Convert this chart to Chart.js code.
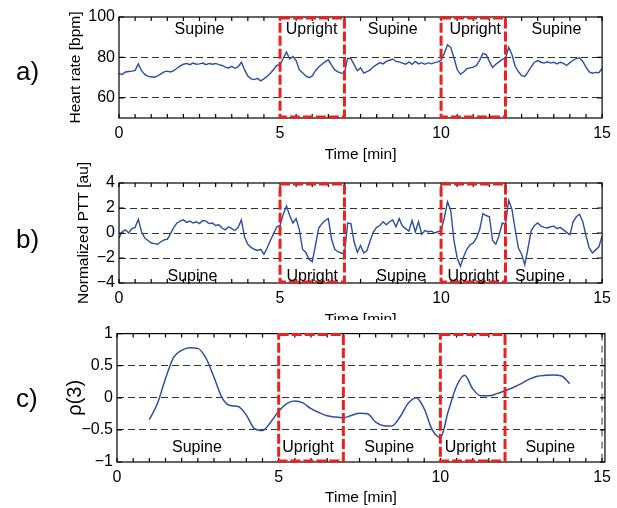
<!DOCTYPE html>
<html>
<head>
<meta charset="utf-8">
<script src="https://cdn.jsdelivr.net/npm/chart.js@4.4.1/dist/chart.umd.min.js"></script>
<style>
  body { margin: 0; background: #fff; }
  #page { position: relative; width: 617px; height: 508px; overflow: hidden; background: #fff;
          font-family: "Liberation Sans", Arial, sans-serif; }
  .panel { position: absolute; left: 0; width: 617px; }
  #rhoChart { background: #fff; }
  .tag { position: absolute; left: 16px; font-size: 26px; line-height: 26px; color: #000; }
</style>
</head>
<body>
<div id="page">
  <div class="panel" style="top:0px;height:165px"><canvas id="hrChart" width="617" height="165"></canvas></div>
  <div class="panel" style="top:155px;height:175px"><canvas id="pttChart" width="617" height="175"></canvas></div>
  <div class="panel" style="top:320px;height:188px"><canvas id="rhoChart" width="617" height="188"></canvas></div>
  <div class="tag" style="top:58px">a)</div>
  <div class="tag" style="top:226px">b)</div>
  <div class="tag" style="top:385px">c)</div>
</div>
<script>
// Data
const phaseNames = ['Supine', 'Upright', 'Supine', 'Upright', 'Supine'];
const uprightSpans = [[5, 7], [10, 12]];
const timeTicks = [0, 5, 10, 15];

// a) heart rate, sampled every 0.1 min
const hrValues = [
  72.0, 71.6, 72.8, 73.0, 73.2, 73.6, 76.8, 73.4, 71.6, 70.6,
  70.4, 70.2, 70.8, 71.8, 72.8, 73.2, 72.8, 73.4, 74.6, 75.8,
  76.6, 77.0, 76.4, 77.2, 76.6, 76.8, 77.2, 76.4, 77.0, 76.6,
  77.0, 76.4, 76.0, 75.2, 74.8, 75.6, 74.6, 75.4, 77.6, 73.8,
  70.8, 69.4, 69.0, 69.6, 68.4, 69.4, 70.6, 72.2, 74.0, 76.0,
  76.4, 79.6, 82.6, 79.2, 80.4, 78.4, 73.8, 72.4, 70.8, 70.0,
  70.8, 73.4, 75.2, 76.6, 77.8, 78.8, 76.2, 73.8, 72.8, 72.2,
  72.2, 79.6, 79.4, 76.4, 73.4, 74.8, 72.2, 73.0, 73.8, 75.4,
  76.4, 77.4, 76.8, 78.0, 78.6, 79.2, 78.0, 77.8, 77.2, 76.6,
  77.8, 76.6, 78.0, 76.8, 77.4, 76.6, 77.4, 76.8, 77.4, 77.8,
  78.6, 82.0, 86.2, 85.0, 79.8, 74.0, 71.6, 72.8, 74.4, 74.8,
  75.2, 76.0, 78.6, 82.0, 81.4, 78.0, 75.0, 76.6, 77.8, 79.0,
  79.6, 85.0, 81.4, 75.6, 73.0, 71.0, 70.6, 72.8, 75.4, 77.6,
  78.4, 77.6, 77.2, 77.8, 77.2, 77.6, 76.8, 77.6, 77.0, 76.0,
  77.4, 78.6, 79.4, 79.8, 78.0, 75.2, 72.8, 72.2, 72.6, 72.4,
  74.6
];
const hrTicks = [60, 80, 100];
const hrLabelX = [2.5, 5.98, 8.5, 11.06, 13.58];

// b) normalized PTT, sampled every 0.1 min
const pttValues = [
  -0.4, 0.1, 0.25, 0.0, 0.35, 0.45, 1.1, 0.1, -0.4, -0.6,
  -0.8, -0.85, -0.9, -0.7, -0.55, -0.5, -0.05, 0.45, 0.8, 0.95,
  1.05, 0.85, 0.95, 0.8, 0.9, 0.75, 1.0, 0.95, 0.75, 0.8,
  0.6, 0.65, 0.4, 0.25, 0.5, 0.35, 0.2, 0.45, 1.05, -0.35,
  -0.9, -1.15, -1.3, -1.4, -1.3, -1.7, -1.2, -0.6, -0.05, 0.5,
  0.6, 1.5, 2.15, 1.4, 0.8, 1.15, 0.25, -1.3, -1.55, -2.1,
  -2.3, -1.0, 0.4, 0.75, 1.0, 1.15, -0.5, -1.3, -1.5, -1.6,
  -1.7, 0.8, 0.75, -0.7, -1.55, -1.0, -1.6, -1.4, -0.6, 0.1,
  0.45, 0.6, 0.9, 0.65, 0.9, 1.05, 0.5, 1.15, 0.55, 0.35,
  0.15, 1.0, 0.1, 0.9, -0.1, 0.2, 0.1, 0.15, 0.0, 0.1,
  0.2, 1.2, 2.5, 1.8, -0.6, -2.0, -2.65, -1.9, -1.3, -0.95,
  -0.8, -0.4, 0.3, 1.55, 1.4, 1.3, -0.6, -0.9, -0.2, 0.8,
  0.7, 2.6, 1.9, 0.3, -1.2, -1.7, -2.55, -1.2, 0.2, 0.6,
  0.8, 0.55, 0.45, 0.4, 0.5, 0.55, 0.35, 0.45, 0.25, 0.05,
  -0.15, 0.9, 1.3, 1.5, 0.9, -0.2, -1.2, -1.6, -1.35, -1.1,
  -0.25
];
const pttTicks = [-4, -2, 0, 2, 4];
const pttLabelX = [2.28, 6.0, 8.76, 11.0, 13.07];

// c) rho(3), sampled every 0.25 min from 1 to 14 min
const rhoValues = [
  -0.34, -0.09, 0.3, 0.63, 0.74, 0.78, 0.77, 0.62, 0.32, 0.0,
  -0.12, -0.135, -0.27, -0.48, -0.51, -0.38, -0.21, -0.09, -0.05, -0.08,
  -0.17, -0.23, -0.28, -0.3, -0.31, -0.275, -0.24, -0.25, -0.38, -0.435,
  -0.44, -0.3, -0.09, 0.0, -0.17, -0.5, -0.62, -0.2, 0.18, 0.35,
  0.14, 0.03, 0.03, 0.065, 0.11, 0.16, 0.22, 0.29, 0.335, 0.35,
  0.355, 0.34, 0.22
];
const rhoTicks = [-1, -0.5, 0, 0.5, 1];
const rhoLabelX = [2.47, 5.91, 8.42, 10.93, 13.4];

const hrTime = hrValues.map((v, i) => i / 10);
const pttTime = pttValues.map((v, i) => i / 10);
const rhoTime = rhoValues.map((v, i) => 1 + i / 4);
const minorTicks = Array.from({length: 31}, (v, i) => i / 2);

Chart.defaults.font.family = '"Liberation Sans", Arial, sans-serif';
Chart.defaults.color = '#000';

const lineBlue = '#2b4ea3';
const dashRed = '#e8231f';

function fmt(v) {
  return v < 0 ? '\u2212' + Math.abs(v) : String(v);
}

// frame, inward ticks, upright boxes and phase labels
const framePlugin = {
  id: 'frame',
  afterDraw(chart, args, opts) {
    const ctx = chart.ctx;
    const a = chart.chartArea;
    const x = chart.scales.x, y = chart.scales.y;
    ctx.save();
    if (opts.endLine) {
      const px = x.getPixelForValue(15);
      ctx.strokeStyle = '#333';
      ctx.lineWidth = 1;
      ctx.setLineDash([7, 5]);
      ctx.beginPath();
      ctx.moveTo(px, a.top);
      ctx.lineTo(px, a.bottom);
      ctx.stroke();
      ctx.setLineDash([]);
    }
    ctx.strokeStyle = '#000';
    ctx.lineWidth = 1.2;
    ctx.strokeRect(a.left, a.top, a.right - a.left, a.bottom - a.top);
    ctx.beginPath();
    minorTicks.forEach(t => {
      const px = x.getPixelForValue(t);
      ctx.moveTo(px, a.bottom); ctx.lineTo(px, a.bottom - 4);
      ctx.moveTo(px, a.top); ctx.lineTo(px, a.top + 4);
    });
    y.ticks.forEach(tk => {
      const py = y.getPixelForValue(tk.value);
      ctx.moveTo(a.left, py); ctx.lineTo(a.left + 5, py);
      ctx.moveTo(a.right, py); ctx.lineTo(a.right - 5, py);
    });
    ctx.stroke();

    ctx.strokeStyle = dashRed;
    ctx.lineWidth = 3;
    ctx.setLineDash([10, 3]);
    uprightSpans.forEach(([s, e]) => {
      const l = x.getPixelForValue(s), r = x.getPixelForValue(e);
      ctx.strokeRect(l, a.top + 1, r - l, a.bottom - a.top - 2);
    });
    ctx.setLineDash([]);

    ctx.fillStyle = '#000';
    ctx.font = '16px "Liberation Sans", Arial, sans-serif';
    ctx.textAlign = 'center';
    ctx.textBaseline = 'middle';
    opts.labelX.forEach((lx, i) => {
      ctx.fillText(phaseNames[i], x.getPixelForValue(lx), y.getPixelForValue(opts.labelY));
    });
    ctx.restore();
  }
};

function makePanel(id, cfg) {
  const canvas = document.getElementById(id);
  return new Chart(canvas.getContext('2d'), {
    type: 'line',
    data: {
      datasets: [{
        data: cfg.time.map((t, i) => ({x: t, y: cfg.values[i]})),
        borderColor: lineBlue,
        borderWidth: cfg.lineWidth,
        pointRadius: 0,
        tension: cfg.smooth ? 0.4 : 0,
        cubicInterpolationMode: cfg.smooth ? 'monotone' : 'default',
        fill: false
      }]
    },
    options: {
      responsive: false,
      animation: false,
      events: [],
      layout: { padding: cfg.padding },
      plugins: {
        legend: { display: false },
        tooltip: { enabled: false },
        frame: { labelX: cfg.labelX, labelY: cfg.labelY, endLine: cfg.endLine }
      },
      scales: {
        x: {
          type: 'linear',
          min: 0,
          max: cfg.xMax,
          afterBuildTicks: s => { s.ticks = timeTicks.map(v => ({value: v})); },
          afterFit: s => { s.height = cfg.xHeight; },
          ticks: { font: {size: 16}, padding: 6, maxRotation: 0, callback: v => fmt(v) },
          grid: { display: false, drawTicks: false },
          border: { display: false },
          title: { display: true, text: 'Time [min]', font: {size: 15.5}, padding: {top: 0, bottom: cfg.xTitlePad} }
        },
        y: {
          min: cfg.yMin,
          max: cfg.yMax,
          afterBuildTicks: s => { s.ticks = cfg.yTicks.map(v => ({value: v})); },
          afterFit: s => { s.width = cfg.yWidth; },
          ticks: { font: {size: 16}, padding: 4, callback: v => fmt(v) },
          grid: {
            drawTicks: false,
            lineWidth: 1,
            color: c => (c.tick && (c.tick.value === cfg.yMin || c.tick.value === cfg.yMax)) ? 'rgba(0,0,0,0)' : '#333'
          },
          border: { display: false, dash: [7, 4] },
          title: { display: true, text: cfg.yTitle, font: {size: cfg.yTitleSize}, padding: {top: cfg.yTitlePad, bottom: 0} }
        }
      }
    },
    plugins: [framePlugin]
  });
}

makePanel('hrChart', {
  time: hrTime, values: hrValues, lineWidth: 1.4,
  yMin: 50, yMax: 100, yTicks: hrTicks, xMax: 15,
  padding: {left: 0, top: 17, right: 14, bottom: 0},
  yWidth: 119, xHeight: 47, xTitlePad: 1,
  yTitle: 'Heart rate [bpm]', yTitleSize: 15.5, yTitlePad: 66,
  labelX: hrLabelX, labelY: 93.8
});

makePanel('pttChart', {
  time: pttTime, values: pttValues, lineWidth: 1.4,
  yMin: -4, yMax: 4, yTicks: pttTicks, xMax: 15,
  padding: {left: 0, top: 28, right: 14, bottom: 0},
  yWidth: 119, xHeight: 47, xTitlePad: 1,
  yTitle: 'Normalized PTT [au]', yTitleSize: 15.5, yTitlePad: 74,
  labelX: pttLabelX, labelY: -3.5
});

makePanel('rhoChart', {
  time: rhoTime, values: rhoValues, lineWidth: 1.5, smooth: true,
  yMin: -1, yMax: 1, yTicks: rhoTicks, xMax: 15.09, endLine: true,
  padding: {left: 0, top: 10, right: 11, bottom: 0},
  yWidth: 117, xHeight: 46, xTitlePad: 1,
  yTitle: '\u03c1(3)', yTitleSize: 20, yTitlePad: 63,
  labelX: rhoLabelX, labelY: -0.78
});
</script>
</body>
</html>
